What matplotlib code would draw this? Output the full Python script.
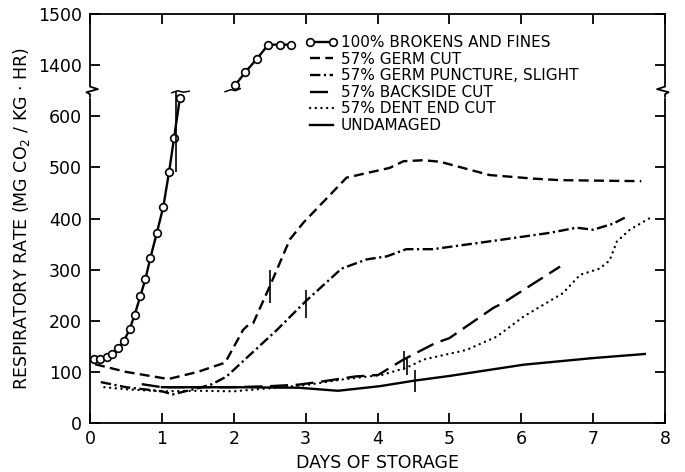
import matplotlib
matplotlib.use("Agg")
import matplotlib.pyplot as plt
import numpy as np

plt.rcParams['font.family'] = ['DejaVu Sans']
plt.rcParams['mathtext.default'] = 'regular'
plt.rcParams['lines.scale_dashes'] = False

# ---------------- data ----------------
brk_lo_x = [0.06, 0.14, 0.23, 0.30, 0.39, 0.47, 0.55, 0.62, 0.70, 0.77, 0.84, 0.93, 1.02, 1.10, 1.17, 1.25]
brk_lo_y = [125, 125, 129, 134, 147, 160, 183, 211, 248, 281, 323, 372, 423, 491, 558, 635]
brk_hi_x = [2.02, 2.16, 2.32, 2.48, 2.64, 2.80]
brk_hi_y = [1361, 1386, 1412, 1440, 1440, 1440]

germ_cut_x = [0.07, 0.5, 1.09, 1.5, 1.88, 2.13, 2.18, 2.27, 2.50, 2.78, 2.97, 3.57, 4.17, 4.36, 4.64, 4.87, 5.56, 6.17, 6.54, 7.67]
germ_cut_y = [115, 100, 86, 100, 118, 182, 189, 195, 267, 359, 392, 480, 499, 512, 514, 511, 485, 478, 475, 473]

germ_punct_x = [0.15, 0.5, 1.0, 1.15, 1.5, 1.7, 1.9, 2.2, 2.6, 3.0, 3.5, 3.85, 4.13, 4.40, 4.77, 5.70, 6.40, 6.77, 7.0, 7.28, 7.46]
germ_punct_y = [80, 70, 62, 56, 68, 76, 91, 130, 182, 238, 302, 320, 326, 340, 340, 358, 372, 382, 378, 390, 403]

backside_x = [0.72, 1.0, 1.3, 2.0, 2.5, 2.9, 3.22, 3.69, 4.01, 4.36, 4.80, 5.0, 5.61, 5.75, 6.54]
backside_y = [76, 70, 70, 70, 72, 75, 81, 91, 94, 124, 156, 166, 225, 235, 306]

dent_x = [0.2, 0.5, 1.0, 1.5, 2.0, 2.5, 3.0, 3.5, 4.06, 4.4, 4.64, 5.24, 5.66, 6.03, 6.58, 6.82, 7.09, 7.23, 7.33, 7.51, 7.79]
dent_y = [70, 66, 62, 63, 62, 68, 74, 85, 94, 108, 124, 143, 169, 208, 254, 290, 302, 318, 355, 378, 401]

undam_x = [1.0, 2.0, 2.9, 3.45, 4.03, 4.52, 5.0, 6.03, 7.0, 7.72]
undam_y = [70, 70, 69, 63, 72, 83, 92, 114, 127, 135]

mark_x = [1.20, 2.50, 3.00, 4.37, 4.41, 4.52]
mark_lo = [490, 235, 206, 104, 94, 61]
mark_hi = [650, 300, 260, 140, 127, 104]

labels = ["100% BROKENS AND FINES", "57% GERM CUT", "57% GERM PUNCTURE, SLIGHT",
          "57% BACKSIDE CUT", "57% DENT END CUT", "UNDAMAGED"]

ytick_vals = [0, 100, 200, 300, 400, 500, 600, 1400, 1500]
xtick_vals = [0, 1, 2, 3, 4, 5, 6, 7, 8]

BREAK_LO, BREAK_HI = 650, 1350
def ty(v):
    v = np.asarray(v, dtype=float)
    return np.where(v <= BREAK_LO, v, v - (BREAK_HI - BREAK_LO))

# ---------------- figure ----------------
fig = plt.figure(figsize=(6.85, 4.72), dpi=100)
ax = fig.add_axes([90/685, 1-423/472, 575/685, 409/472])
ax.set_xlim(0, 8)
ax.set_ylim(0, float(ty(1500)))

lw = 1.7
k = 'black'
l1, = ax.plot(brk_lo_x, ty(brk_lo_y), color=k, lw=lw, marker='o', ms=5.5, mfc='white', mec=k, mew=1.2)
ax.plot(brk_hi_x, ty(brk_hi_y), color=k, lw=lw, marker='o', ms=5.5, mfc='white', mec=k, mew=1.2)
l2, = ax.plot(germ_cut_x, ty(germ_cut_y), color=k, lw=lw, linestyle=(0, (7.2, 3.8)))
l3, = ax.plot(germ_punct_x, ty(germ_punct_y), color=k, lw=lw, linestyle=(0, (7.5, 2.5, 1.6, 2.5)))
l4, = ax.plot(backside_x, ty(backside_y), color=k, lw=lw, linestyle=(0, (13, 5.5)))
l5, = ax.plot(dent_x, ty(dent_y), color=k, lw=lw, linestyle=(0, (0.1, 4.0)), dash_capstyle='round')
l6, = ax.plot(undam_x, ty(undam_y), color=k, lw=lw)

ax.vlines(mark_x, ty(mark_lo), ty(mark_hi), color=k, lw=1.2)

# break marks on the broken-kernel curve
ax.plot([1.14, 1.22, 1.30, 1.38], [646, 650, 647, 649], color=k, lw=1.1)
ax.plot([1.88, 1.96, 2.02, 2.09], ty([1348, 1352, 1350, 1354]), color=k, lw=1.1)

# legend
leg = ax.legend([l1, l2, l3, l4, l5, l6], labels, loc='upper left',
                bbox_to_anchor=(0.375, 0.948), frameon=False, fontsize=11,
                handlelength=2.1, handletextpad=0.2, labelspacing=0.1,
                numpoints=2, borderpad=0, borderaxespad=0)

# axes styling
for s in ax.spines.values():
    s.set_linewidth(1.3)
ax.set_xticks(xtick_vals)
ax.set_xticklabels([str(v) for v in xtick_vals])
ax.set_yticks(ty(ytick_vals))
ax.set_yticklabels([str(v) for v in ytick_vals])
ax.tick_params(direction='in', length=7, width=1.3, labelsize=12.5,
               top=True, right=True)
ax.tick_params(axis='x', pad=5)
ax.tick_params(axis='y', pad=6)

# spine break symbols
yb = float(ty(650))
for x0, sgn in ((0.0, 1), (8.0, -1)):
    ax.plot([x0, x0], [yb - 10, yb + 10], color='white', lw=3, clip_on=False, zorder=5)
    ax.plot([x0, x0, x0 + sgn * 0.11, x0 - sgn * 0.05, x0, x0],
            [yb + 12, yb + 8, yb + 3, yb - 3, yb - 7, yb - 12],
            color=k, lw=1.3, clip_on=False, zorder=6)

ax.set_xlabel("DAYS OF STORAGE", fontsize=12.5, va='center')
ax.xaxis.set_label_coords(0.5, -40/409)
ax.set_ylabel("RESPIRATORY RATE (MG CO$_2$ / KG · HR)", fontsize=12.5, va='center')
ax.yaxis.set_label_coords(-68/575, 0.5)

fig.savefig("out.png", dpi=100)
